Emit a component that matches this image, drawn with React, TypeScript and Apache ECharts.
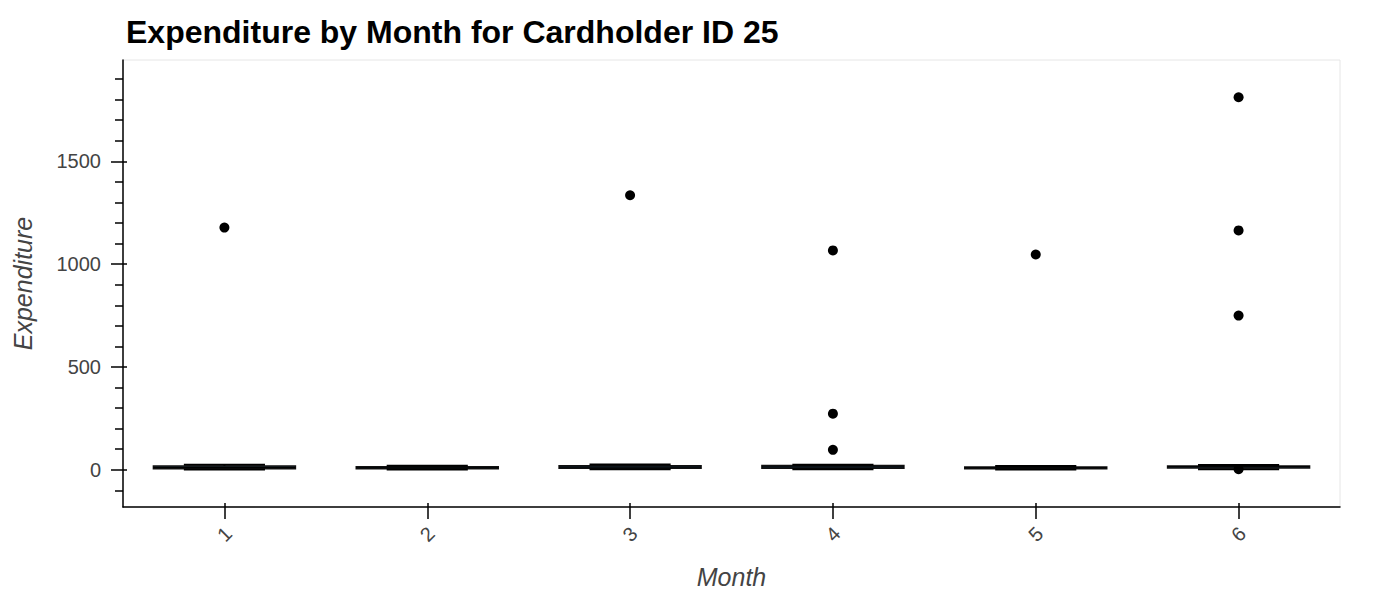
import React, { useEffect, useRef } from "react";
import * as echarts from "echarts";

const months = ["1", "2", "3", "4", "5", "6"];

// box statistics per month (values sit close to zero)
const boxMin = [1, 1, 2, 3, 1, 2];
const boxQ1 = [5, 5, 7, 8, 5, 9];
const boxMedian = [11, 10, 13, 14, 10, 15];
const boxQ3 = [18, 15, 20, 21, 14, 19];
const boxMax = [24, 20, 26, 25, 19, 23];

// outliers
const outlierMonths = ["1", "3", "4", "4", "4", "5", "6", "6", "6", "6"];
const outlierValues = [1178, 1335, 1067, 273, 97, 1047, 1812, 1164, 750, 3];

const yMajorTicks = [0, 500, 1000, 1500];
const yMinorTicks = [-100, 100, 200, 300, 400, 600, 700, 800, 900, 1100, 1200, 1300, 1400, 1600, 1700, 1800, 1900];
const yMin = -181;
const yMax = 1993;

const labelColor = "#444444";
const font = "'Liberation Sans', Arial, Helvetica, sans-serif";

const App: React.FC = () => {
  const chartRef = useRef<HTMLDivElement>(null);

  useEffect(() => {
    if (!chartRef.current) return;
    const chart = echarts.init(chartRef.current, null, { renderer: "svg" });

    const boxData = months.map((_, i) => [i, boxMin[i], boxQ1[i], boxMedian[i], boxQ3[i], boxMax[i]]);
    const outlierData = outlierMonths.map((m, i) => [m, outlierValues[i]]);

    const baseY = {
      type: "value" as const,
      min: yMin,
      max: yMax,
      position: "left" as const,
      splitLine: { show: false },
    };

    chart.setOption({
      animation: false,
      backgroundColor: "#ffffff",
      textStyle: { fontFamily: font },
      title: {
        text: "Expenditure by Month for Cardholder ID 25",
        left: 121,
        top: 11,
        textStyle: { fontFamily: font, fontSize: 32, fontWeight: "bold", color: "#000000" },
      },
      grid: {
        left: 123,
        right: 60,
        top: 60,
        bottom: 93,
        show: true,
        borderColor: "#e6e6e6",
        borderWidth: 1,
        outerBoundsMode: "none",
      },
      xAxis: [
        {
          type: "category",
          data: months,
          boundaryGap: true,
          name: "Month",
          nameLocation: "middle",
          nameGap: 57,
          nameTextStyle: { fontFamily: font, fontSize: 25, fontStyle: "italic", color: labelColor },
          axisLine: { show: true, onZero: false, lineStyle: { color: "#000000", width: 1.5 } },
          axisTick: { show: true, alignWithLabel: true, length: 12, lineStyle: { color: "#000000", width: 1.5 } },
          axisLabel: {
            rotate: 45,
            align: "center",
            verticalAlign: "middle",
            margin: 27,
            fontFamily: font,
            fontSize: 20,
            color: labelColor,
          },
          splitLine: { show: false },
        },
        {
          type: "category",
          data: months,
          boundaryGap: true,
          position: "bottom",
          axisLine: { show: false, onZero: false },
          axisTick: { show: true, inside: true, alignWithLabel: true, length: 4, lineStyle: { color: "#000000", width: 1.5 } },
          axisLabel: { show: false },
          splitLine: { show: false },
        },
      ],
      yAxis: [
        {
          ...baseY,
          name: "Expenditure",
          nameLocation: "middle",
          nameRotate: 90,
          nameGap: 88,
          nameTextStyle: { fontFamily: font, fontSize: 25, fontStyle: "italic", color: labelColor },
          axisLine: { show: true, lineStyle: { color: "#000000", width: 1.5 } },
          axisTick: { show: true, length: 12, customValues: yMajorTicks, lineStyle: { color: "#000000", width: 1.5 } },
          axisLabel: {
            customValues: yMajorTicks,
            formatter: (v: number) => String(v),
            margin: 22,
            fontFamily: font,
            fontSize: 20,
            color: labelColor,
          },
        },
        {
          ...baseY,
          axisLine: { show: false },
          axisTick: { show: true, length: 8, customValues: yMinorTicks, lineStyle: { color: "#000000", width: 1.5 } },
          axisLabel: { show: false },
        },
        {
          ...baseY,
          axisLine: { show: false },
          axisTick: { show: true, inside: true, length: 4, customValues: yMajorTicks, lineStyle: { color: "#000000", width: 1.5 } },
          axisLabel: { show: false },
        },
      ],
      series: [
        {
          type: "custom",
          xAxisIndex: 0,
          yAxisIndex: 0,
          data: boxData,
          encode: { x: 0, y: [1, 2, 3, 4, 5] },
          renderItem: (_params: any, api: any) => {
            const idx = api.value(0);
            const band = api.size([1, 0])[0];
            const cx = api.coord([idx, 0])[0];
            const pMin = api.coord([idx, api.value(1)])[1];
            const pQ1 = api.coord([idx, api.value(2)])[1];
            const pMed = api.coord([idx, api.value(3)])[1];
            const pQ3 = api.coord([idx, api.value(4)])[1];
            const pMax = api.coord([idx, api.value(5)])[1];
            const boxHalf = band * 0.35;
            const capHalf = band * 0.2;
            const black = { stroke: "#000000", lineWidth: 2 };
            return {
              type: "group",
              children: [
                { type: "line", shape: { x1: cx, y1: pMin, x2: cx, y2: pQ1 }, style: black },
                { type: "line", shape: { x1: cx, y1: pQ3, x2: cx, y2: pMax }, style: black },
                {
                  type: "rect",
                  shape: { x: cx - boxHalf, y: pQ3, width: boxHalf * 2, height: Math.max(pQ1 - pQ3, 1) },
                  style: { fill: "#1d3444", stroke: "#111111", lineWidth: 1.5 },
                },
                { type: "line", shape: { x1: cx - boxHalf, y1: pMed, x2: cx + boxHalf, y2: pMed }, style: { stroke: "#000000", lineWidth: 1 } },
                { type: "line", shape: { x1: cx - capHalf, y1: pMin, x2: cx + capHalf, y2: pMin }, style: black },
                { type: "line", shape: { x1: cx - capHalf, y1: pMax, x2: cx + capHalf, y2: pMax }, style: black },
              ],
            };
          },
          z: 2,
        },
        {
          type: "scatter",
          xAxisIndex: 0,
          yAxisIndex: 0,
          data: outlierData,
          symbol: "circle",
          symbolSize: 10,
          itemStyle: { color: "#000000", opacity: 1 },
          z: 3,
        },
      ],
    });

    const onResize = () => chart.resize();
    window.addEventListener("resize", onResize);
    return () => {
      window.removeEventListener("resize", onResize);
      chart.dispose();
    };
  }, []);

  return (
    <div
      ref={chartRef}
      style={{ position: "fixed", left: 0, top: 0, width: "1400px", height: "600px", background: "#ffffff" }}
    ></div>
  );
};

export default App;
